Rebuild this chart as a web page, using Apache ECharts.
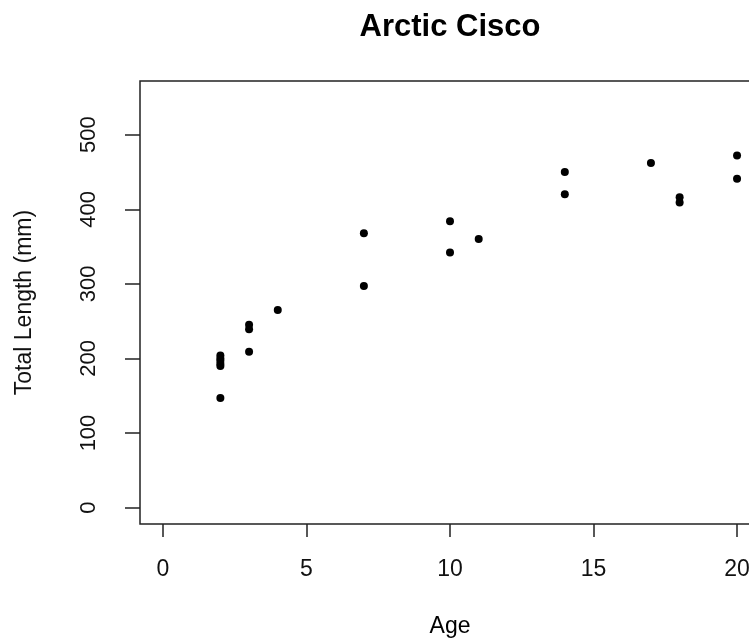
<!DOCTYPE html>
<html>
<head>
<meta charset="utf-8">
<script src="https://cdn.jsdelivr.net/npm/echarts@6/dist/echarts.min.js"></script>
<style>
html,body{margin:0;padding:0;background:#fff;}
#chart{width:749px;height:639px;}
</style>
</head>
<body>
<div id="chart"></div>
<script>
// Data
var ages    = [2, 2, 2, 2, 2, 2, 3, 3, 3, 4, 7, 7, 10, 10, 11, 14, 14, 17, 18, 18, 20, 20];
var lengths = [147, 190, 193, 197, 200, 204, 209, 239, 245, 265, 297, 368, 342, 384, 360, 420, 450, 462, 409, 416, 441, 472];
var xTicks = [0, 5, 10, 15, 20];
var yTicks = [0, 100, 200, 300, 400, 500];
var titleText = 'Arctic Cisco';
var xName = 'Age';
var yName = 'Total Length (mm)';

var points = ages.map(function (a, i) { return [a, lengths[i]]; });
var FONT = '"Liberation Sans", Arial, sans-serif';

var chart = echarts.init(document.getElementById('chart'), null, {renderer: 'canvas'});
chart.setOption({
  animation: false,
  backgroundColor: '#ffffff',
  title: {
    text: titleText,
    left: 445,
    top: 7,
    textAlign: 'center',
    textStyle: {fontFamily: FONT, fontWeight: 'bold', fontSize: 31, color: '#000'}
  },
  grid: {
    left: 140, top: 81, width: 620, height: 443,
    outerBoundsMode: 'none',
    show: true, borderColor: '#222', borderWidth: 1.5, backgroundColor: 'transparent',
    containLabel: false
  },
  xAxis: {
    type: 'value',
    min: -0.8, max: 20.8,
    name: xName,
    nameLocation: 'middle',
    nameGap: 91,
    nameTextStyle: {fontFamily: FONT, fontSize: 23, color: '#000'},
    splitLine: {show: false},
    axisLine: {show: false, onZero: false},
    axisTick: {show: true, inside: false, length: 13, customValues: xTicks, lineStyle: {color: '#222', width: 1.5}},
    axisLabel: {show: true, customValues: xTicks, margin: 34, fontFamily: FONT, fontSize: 23, color: '#111'}
  },
  yAxis: {
    type: 'value',
    min: -22, max: 572,
    name: yName,
    nameLocation: 'middle',
    nameGap: 104,
    nameRotate: 90,
    nameTextStyle: {fontFamily: FONT, fontSize: 23, color: '#111'},
    splitLine: {show: false},
    axisLine: {show: false, onZero: false},
    axisTick: {show: true, inside: false, length: 15, customValues: yTicks, lineStyle: {color: '#222', width: 1.5}},
    axisLabel: {show: true, customValues: yTicks, rotate: 90, margin: 40, fontFamily: FONT, fontSize: 22, color: '#111'}
  },
  series: [{
    type: 'scatter',
    data: points,
    symbol: 'circle',
    symbolSize: 8,
    itemStyle: {color: '#000', opacity: 1}
  }]
});
</script>
</body>
</html>
